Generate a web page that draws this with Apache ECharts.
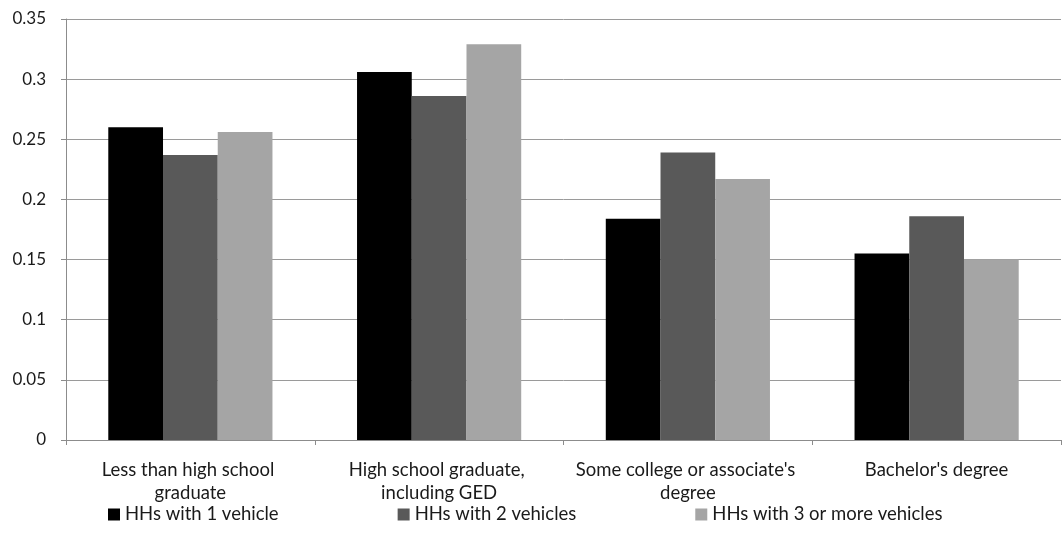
<!DOCTYPE html>
<html>
<head>
<meta charset="utf-8">
<script src="https://cdn.jsdelivr.net/npm/echarts@6/dist/echarts.min.js"></script>
<style>
  html, body { margin: 0; padding: 0; background: #fff; }
  #chart { width: 1062px; height: 533px; }
</style>
</head>
<body>
<div id="chart"></div>
<script>
// Education level of household head
const categories = [
  "Less than high school graduate",
  "High school graduate, including GED",
  "Some college or associate's degree",
  "Bachelor's degree"
];

const seriesNames = ["HHs with 1 vehicle", "HHs with 2 vehicles", "HHs with 3 or more vehicles"];

const oneVehicle = [0.260, 0.306, 0.184, 0.155];
const twoVehicles = [0.237, 0.286, 0.239, 0.186];
const threePlusVehicles = [0.256, 0.329, 0.217, 0.150];

const yTicks = [0, 0.05, 0.1, 0.15, 0.2, 0.25, 0.3, 0.35];

const colors = ["#000000", "#595959", "#a5a5a5"];
const fontFamily = "Lato, 'Open Sans', sans-serif";

const chart = echarts.init(document.getElementById('chart'), null, { renderer: 'canvas' });

const values = [oneVehicle, twoVehicles, threePlusVehicles];

chart.setOption({
  animation: false,
  backgroundColor: '#ffffff',
  textStyle: { fontFamily: fontFamily },
  grid: { left: 66, right: 1, top: 19, bottom: 93, containLabel: false },
  legend: {
    bottom: 4,
    left: 103,
    itemWidth: 12,
    itemHeight: 12,
    itemGap: 119,
    icon: 'rect',
    textStyle: { fontSize: 18.5, color: '#1a1a1a', fontFamily: fontFamily },
    data: seriesNames
  },
  xAxis: {
    type: 'category',
    data: categories,
    axisLine: { lineStyle: { color: '#8c8c8c', width: 1 } },
    axisTick: { show: true, length: 5, lineStyle: { color: '#8c8c8c' } },
    axisLabel: {
      fontSize: 18.5,
      color: '#1a1a1a',
      margin: 19,
      lineHeight: 23,
      width: 232,
      overflow: 'break',
      interval: 0
    }
  },
  yAxis: {
    type: 'value',
    min: 0,
    max: yTicks[yTicks.length - 1],
    interval: 0.05,
    axisLine: { show: true, lineStyle: { color: '#8c8c8c', width: 1 } },
    axisTick: { show: true, length: 5, inside: false, lineStyle: { color: '#8c8c8c' } },
    splitLine: { show: true, lineStyle: { color: '#9a9a9a', width: 1 } },
    axisLabel: {
      fontSize: 17,
      color: '#1a1a1a',
      margin: 20,
      formatter: function (v) { return String(+v.toFixed(2)); }
    }
  },
  series: seriesNames.map(function (name, i) {
    return {
      name: name,
      type: 'bar',
      data: values[i],
      barGap: '0%',
      barCategoryGap: '34%',
      itemStyle: { color: colors[i] }
    };
  })
});
</script>
</body>
</html>
